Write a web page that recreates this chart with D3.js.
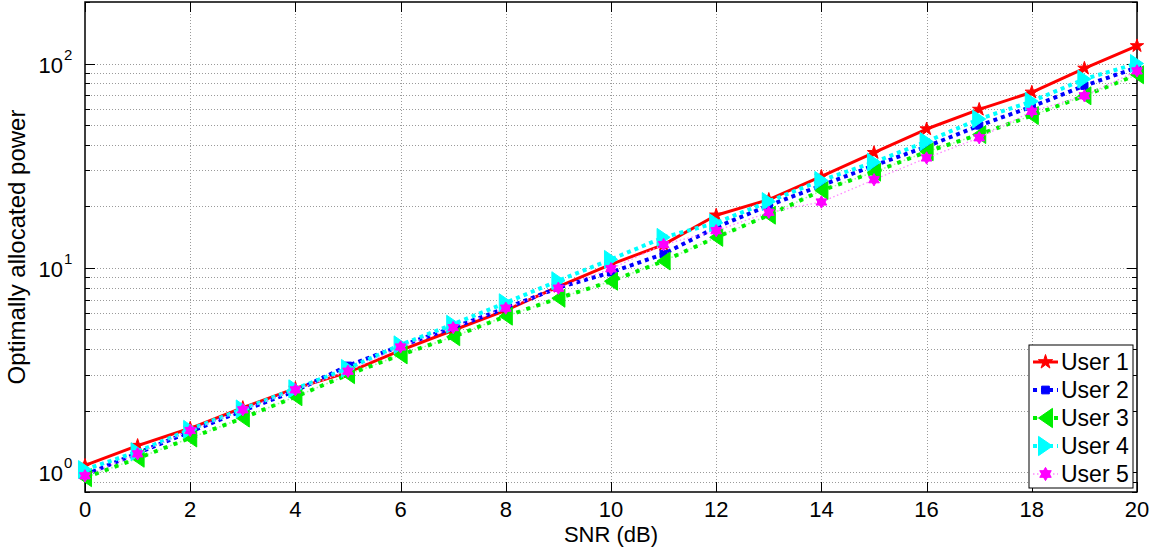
<!DOCTYPE html>
<html><head><meta charset="utf-8">
<script src="https://cdn.jsdelivr.net/npm/d3@7"></script>
<style>
html,body{margin:0;padding:0;background:#fff;}
svg text{font-family:"Liberation Sans",Arial,Helvetica,sans-serif;fill:#000;}
</style></head>
<body><svg id="chart" width="1161" height="548"></svg>
<script>
const snr = [0,1,2,3,4,5,6,7,8,9,10,11,12,13,14,15,16,17,18,19,20];
const user1 = [1.08,1.35,1.64,2.07,2.57,3.08,3.95,4.95,6.2,8.1,10.4,13.0,18.1,21.6,28.0,36.6,47.8,59.6,72.3,94.7,122];
const user2 = [0.97,1.24,1.58,2.0,2.5,3.32,4.15,5.1,6.35,8.0,9.5,11.7,15.8,20.2,25.3,31.7,39.2,49.7,61.5,77.8,95.6];
const user3 = [0.94,1.17,1.47,1.84,2.34,3.0,3.75,4.6,5.8,7.1,8.6,10.8,14.1,18.1,23.9,29.4,37.0,44.9,55.6,69.5,88.1];
const user4 = [1.03,1.26,1.62,2.04,2.56,3.22,4.2,5.3,6.75,8.65,11.0,14.1,16.6,21.1,26.8,32.9,41.5,53.5,65.3,83.9,100];
const user5 = [0.96,1.23,1.6,2.02,2.53,3.12,4.1,5.1,6.35,7.95,9.9,13.0,15.2,18.7,21.0,27.0,34.5,43.3,58.3,69.5,92];
const seriesNames = ["User 1","User 2","User 3","User 4","User 5"];
const xTicks = [0,2,4,6,8,10,12,14,16,18,20];
const yMajor = [1,10,100];
const yExp = ["0","1","2"];
const xLabel = "SNR (dB)";
const yLabel = "Optimally allocated power";

const svg = d3.select("#chart");
const L=85, R=1137, T=2, B=492;
const x = d3.scaleLinear().domain([0,20]).range([L,R]);
const y = d3.scaleLog().domain([0.8,200]).range([B,T]);

const yMinor = [];
[0.1,1,10,100].forEach(d=>{for(let k=1;k<10;k++){const v=d*k; if(v>=0.8-1e-9 && v<=200+1e-9) yMinor.push(+v.toPrecision(3));}});

const grid = svg.append("g");
grid.selectAll("line.gx").data(xTicks.slice(1,-1)).join("line")
  .attr("x1",d=>Math.round(x(d))+0.5).attr("x2",d=>Math.round(x(d))+0.5).attr("y1",T).attr("y2",B)
  .attr("stroke","#9a9a9a").attr("stroke-width",1).attr("stroke-dasharray","1,2");
grid.selectAll("line.gy").data(yMinor.filter(v=>v>0.8&&v<200)).join("line")
  .attr("x1",L).attr("x2",R).attr("y1",d=>Math.round(y(d))+0.5).attr("y2",d=>Math.round(y(d))+0.5)
  .attr("stroke","#9a9a9a").attr("stroke-width",1).attr("stroke-dasharray","1,2");

const ax = svg.append("g").attr("stroke","#000").attr("stroke-width",1);
xTicks.forEach(d=>{
  const xx = Math.round(x(d))+0.5;
  ax.append("line").attr("x1",xx).attr("x2",xx).attr("y1",B).attr("y2",B-10);
  ax.append("line").attr("x1",xx).attr("x2",xx).attr("y1",T).attr("y2",T+10);
});
yMinor.forEach(d=>{
  const len = yMajor.includes(d)?10:5;
  const yy = Math.round(y(d))+0.5;
  ax.append("line").attr("x1",L).attr("x2",L+len).attr("y1",yy).attr("y2",yy);
  ax.append("line").attr("x1",R).attr("x2",R-len).attr("y1",yy).attr("y2",yy);
});
svg.append("rect").attr("x",L).attr("y",T).attr("width",R-L).attr("height",B-T)
  .attr("fill","none").attr("stroke","#000").attr("stroke-width",1.5);

// tick labels
const tickFs = 22;
svg.append("g").selectAll("text").data(xTicks).join("text")
  .attr("x",d=>x(d)).attr("y",B+24.5).attr("text-anchor","middle")
  .attr("font-size",tickFs).text(d=>d);
const yl = svg.append("g");
yMajor.forEach((d,i)=>{
  yl.append("text").attr("x",63).attr("y",y(d)+9).attr("text-anchor","end").attr("font-size",tickFs).text("10");
  yl.append("text").attr("x",64).attr("y",y(d)-4).attr("text-anchor","start").attr("font-size",15).text(yExp[i]);
});
svg.append("text").attr("x",(L+R)/2).attr("y",541.5).attr("text-anchor","middle").attr("font-size",22).text(xLabel);
svg.append("text").attr("transform",`translate(25,${(T+B)/2}) rotate(-90)`).attr("text-anchor","middle").attr("font-size",24).text(yLabel);

// marker shapes
const hexagram = {draw(ctx,size){const r=Math.sqrt(size)/1.4;
  for(let t=0;t<2;t++){const off=t?Math.PI/2:-Math.PI/2;
    for(let k=0;k<3;k++){const a=off+k*2*Math.PI/3;const px=r*Math.cos(a),py=r*Math.sin(a);k?ctx.lineTo(px,py):ctx.moveTo(px,py);} ctx.closePath();}}};
const triLeft = {draw(ctx,size){const h=Math.sqrt(size);ctx.moveTo(-h*0.45,0);ctx.lineTo(h*0.45,-h*0.62);ctx.lineTo(h*0.45,h*0.62);ctx.closePath();}};
const triRight = {draw(ctx,size){const h=Math.sqrt(size);ctx.moveTo(h*0.45,0);ctx.lineTo(-h*0.45,-h*0.62);ctx.lineTo(-h*0.45,h*0.62);ctx.closePath();}};

const styles = [
  {vals:user1,color:"#ff0000",w:3,dash:null,under:null,sym:d3.symbolStar,size:55},
  {vals:user2,color:"#0000ff",w:4,dash:"4,4",under:null,sym:d3.symbolSquare,size:52},
  {vals:user3,color:"#00ee00",w:4,dash:"4,6.5",under:{color:"#99ff99",w:1.5,dash:"1.5,2"},sym:triLeft,size:210},
  {vals:user4,color:"#00ffff",w:4,dash:"4,4",under:null,sym:triRight,size:210},
  {vals:user5,color:"#ff00ff",w:1.3,dash:"1.5,2.5",under:null,sym:hexagram,size:75,lineColor:"#ff88ff"}
];

const line = d3.line().x(d=>x(d[0])).y(d=>y(d[1]));
const plot = svg.append("g");
styles.forEach(s=>{
  const pts = snr.map((v,i)=>[v,s.vals[i]]);
  if(s.under) plot.append("path").attr("d",line(pts)).attr("fill","none").attr("stroke",s.under.color)
     .attr("stroke-width",s.under.w).attr("stroke-dasharray",s.under.dash);
  plot.append("path").attr("d",line(pts)).attr("fill","none").attr("stroke",s.lineColor||s.color)
     .attr("stroke-width",s.w).attr("stroke-dasharray",s.dash).attr("stroke-linejoin","round");
  plot.selectAll(null).data(pts).join("path")
    .attr("transform",d=>`translate(${x(d[0])},${y(d[1])})`)
    .attr("d",d3.symbol(s.sym,s.size)).attr("fill",s.color).attr("stroke",s.color).attr("stroke-width",1);
});

// legend
const lg = svg.append("g");
const LX=1029, LY=345, LW=104, LH=143;
lg.append("rect").attr("x",LX).attr("y",LY).attr("width",LW).attr("height",LH)
  .attr("fill","#fff").attr("stroke","#000").attr("stroke-width",1);
styles.forEach((s,i)=>{
  const yy = LY+17+i*28;
  if(s.under) lg.append("line").attr("x1",LX+4).attr("x2",LX+29).attr("y1",yy).attr("y2",yy)
     .attr("stroke",s.under.color).attr("stroke-width",s.under.w).attr("stroke-dasharray",s.under.dash);
  lg.append("line").attr("x1",LX+4).attr("x2",LX+29).attr("y1",yy).attr("y2",yy)
     .attr("stroke",s.lineColor||s.color).attr("stroke-width",s.w).attr("stroke-dasharray",s.dash);
  lg.append("path").attr("transform",`translate(${LX+16.5},${yy})`).attr("d",d3.symbol(s.sym,s.size*1.15))
     .attr("fill",s.color).attr("stroke",s.color).attr("stroke-width",1);
  lg.append("text").attr("x",LX+32).attr("y",yy+7.5).attr("font-size",23).text(seriesNames[i]);
});
</script></body></html>
